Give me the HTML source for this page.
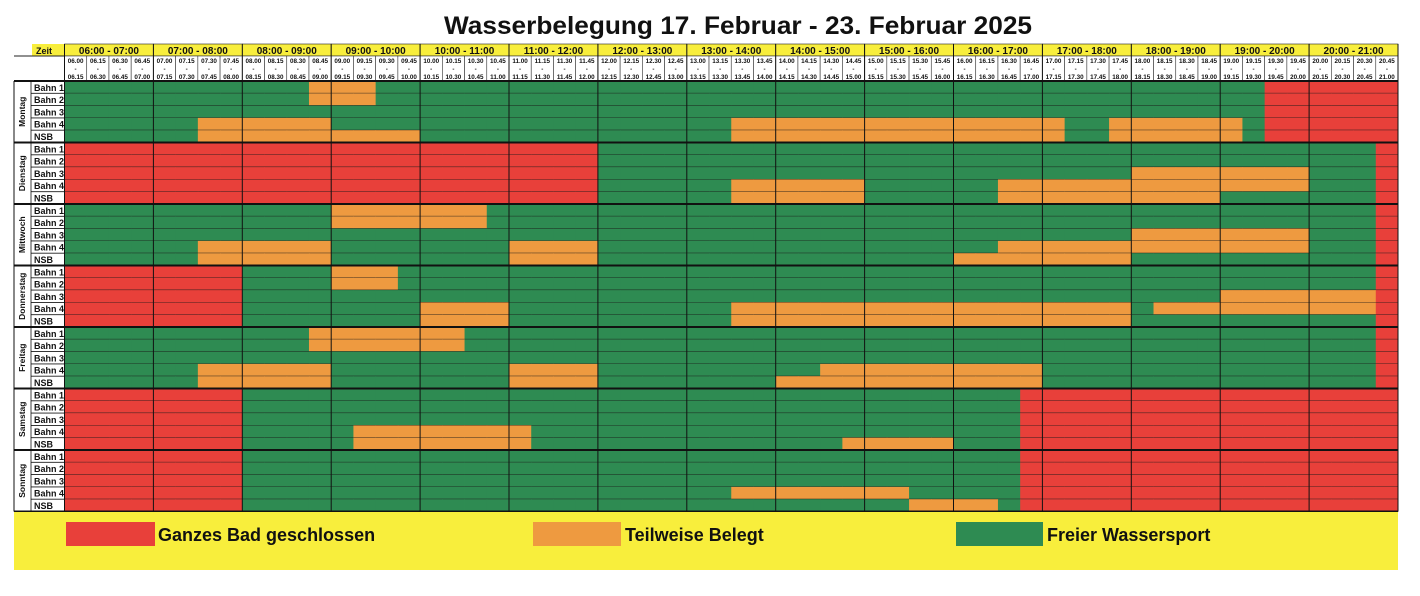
<!DOCTYPE html>
<html><head><meta charset="utf-8"><style>
html,body{margin:0;padding:0;background:#fff;width:1420px;height:596px;overflow:hidden}
svg{display:block;font-family:"Liberation Sans",sans-serif}
</style></head><body>
<svg id="chart" width="1420" height="596" viewBox="0 0 1420 596">
<text x="738" y="34" text-anchor="middle" font-size="25" font-weight="bold" fill="#111" textLength="588" lengthAdjust="spacingAndGlyphs">Wasserbelegung 17. Februar - 23. Februar 2025</text>
<g id="grid"></g>
<g id="legend">
<rect x="14" y="512" width="1384" height="58" fill="#f8ee3c"/>
<rect x="66" y="522" width="89" height="24" fill="#e8403a"/>
<text x="158" y="541" font-size="18" font-weight="bold" fill="#111">Ganzes Bad geschlossen</text>
<rect x="533" y="522" width="88" height="24" fill="#ee9a40"/>
<text x="625" y="541" font-size="18" font-weight="bold" fill="#111">Teilweise Belegt</text>
<rect x="956" y="522" width="87" height="24" fill="#2e8b52"/>
<text x="1047" y="541" font-size="18" font-weight="bold" fill="#111">Freier Wassersport</text>
</g>
</svg>
<script>
const hours = ["06","07","08","09","10","11","12","13","14","15","16","17","18","19","20"];
const quarters = ["00","15","30","45"];
const days = ["Montag","Dienstag","Mittwoch","Donnerstag","Freitag","Samstag","Sonntag"];
const lanes = ["Bahn 1","Bahn 2","Bahn 3","Bahn 4","NSB"];
// status per lane, run-length: G=frei, O=teilweise, R=geschlossen (60 quarter slots)
const montag = ["G11 O3 G40 R6","G11 O3 G40 R6","G54 R6","G6 O6 G18 O15 G2 O6 G1 R6","G6 O10 G14 O15 G2 O6 G1 R6"];
const dienstag = ["R24 G35 R1","R24 G35 R1","R24 G24 O8 G3 R1","R24 G6 O6 G6 O14 G3 R1","R24 G6 O6 G6 O10 G7 R1"];
const mittwoch = ["G12 O7 G40 R1","G12 O7 G40 R1","G48 O8 G3 R1","G6 O6 G8 O4 G18 O14 G3 R1","G6 O6 G8 O4 G16 O8 G11 R1"];
const donnerstag = ["R8 G4 O3 G44 R1","R8 G4 O3 G44 R1","R8 G44 O7 R1","R8 G8 O4 G10 O18 G1 O10 R1","R8 G8 O4 G10 O18 G11 R1"];
const freitag = ["G11 O7 G41 R1","G11 O7 G41 R1","G59 R1","G6 O6 G8 O4 G10 O10 G15 R1","G6 O6 G8 O4 G8 O12 G15 R1"];
const samstag = ["R8 G35 R17","R8 G35 R17","R8 G35 R17","R8 G5 O8 G22 R17","R8 G5 O8 G14 O5 G3 R17"];
const sonntag = ["R8 G35 R17","R8 G35 R17","R8 G35 R17","R8 G22 O8 G5 R17","R8 G30 O4 G1 R17"];
const schedule = [montag,dienstag,mittwoch,donnerstag,freitag,samstag,sonntag];

const NS="http://www.w3.org/2000/svg";
const g=document.getElementById('grid');
const X0=64.5,X1=1398,Y0=81,DAYH=61.5;
const nSlots=hours.length*quarters.length;
const QW=(X1-X0)/nSlots, RH=DAYH/lanes.length;
const xs=i=>X0+i*QW;
const ys=(d,l)=>Y0+d*DAYH+l*RH;
const colors={G:"#2e8b52",O:"#ee9a40",R:"#e8403a"};
function mk(tag,attrs){const e=document.createElementNS(NS,tag);for(const k in attrs)e.setAttribute(k,attrs[k]);g.appendChild(e);return e;}
function decode(s){const out=[];s.split(" ").forEach(t=>{const c=t[0],n=+t.slice(1);for(let i=0;i<n;i++)out.push(c);});return out;}

// header
let e=mk('rect',{x:32,y:44,width:X0-32,height:12,fill:"#f8ee3c"});


e=mk('text',{x:36,y:54,"font-size":9,"font-weight":"bold",fill:"#111"});e.textContent="Zeit";


hours.forEach((h,i)=>{
  const x=xs(i*4),w=QW*4;
  let r=mk('rect',{x:x,y:44,width:w,height:12,fill:"#f8ee3c",stroke:"#222","stroke-width":0.6});
  
  
  let t=mk('text',{x:x+w/2,y:54,"font-size":10,"font-weight":"bold","text-anchor":"middle",fill:"#111"});
  t.textContent=h+":00 - "+hours[i+1<hours.length?i+1:i].replace(/.*/,String(+h+1).padStart(2,"0"))+":00";
  
  
  quarters.forEach((q,j)=>{
    const k=i*4+j, qx=xs(k);
    const endH=j==3?String(+h+1).padStart(2,"0"):h, endQ=quarters[(j+1)%4];
    let c=mk('rect',{x:qx,y:56,width:QW,height:25,fill:"#fff",stroke:"#333","stroke-width":0.6});
    
    
    [[h+"."+q,63],["-",71],[endH+"."+endQ,79]].forEach(([s,yy])=>{
      let tt=mk('text',{x:qx+QW/2,y:yy,"font-size":6.3,"font-weight":"bold","text-anchor":"middle",fill:"#111"});
      tt.textContent=s;
      
      
    });
  });
});
mk('line',{x1:14,y1:56,x2:X0,y2:56,stroke:"#222","stroke-width":1});

// cells
schedule.forEach((day,d)=>{
  day.forEach((runs,l)=>{
    const vals=decode(runs);
    vals.forEach((v,k)=>{
      let c=mk('rect',{x:xs(k),y:ys(d,l),width:QW+0.4,height:RH+0.3,fill:colors[v]});
      
      
    });
    let lt=mk('text',{x:34,y:ys(d,l)+RH-2.5,"font-size":9,"font-weight":"bold",fill:"#111"});
    lt.textContent=lanes[l];
    
    
    mk('line',{x1:31,y1:ys(d,l)+RH,x2:X1,y2:ys(d,l)+RH,stroke:"#1a1a1a","stroke-width":0.9});
  });
  const cy=Y0+d*DAYH+DAYH/2;
  let dt=mk('text',{x:25,y:cy,"font-size":8.5,"font-weight":"bold","text-anchor":"middle",fill:"#111",transform:"rotate(-90 25 "+cy+")"});
  dt.textContent=days[d];
  
  
  mk('line',{x1:14,y1:Y0+d*DAYH,x2:X1,y2:Y0+d*DAYH,stroke:"#111","stroke-width":2});
});
mk('line',{x1:14,y1:Y0+7*DAYH,x2:X1,y2:Y0+7*DAYH,stroke:"#111","stroke-width":2});
// vertical hour lines
for(let i=0;i<=hours.length;i++){
  mk('line',{x1:xs(i*4),y1:44,x2:xs(i*4),y2:Y0+7*DAYH,stroke:"#111","stroke-width":1});
}
mk('line',{x1:14,y1:81,x2:14,y2:Y0+7*DAYH,stroke:"#111","stroke-width":1});
mk('line',{x1:31,y1:81,x2:31,y2:Y0+7*DAYH,stroke:"#111","stroke-width":0.8});
</script>
</body></html>
